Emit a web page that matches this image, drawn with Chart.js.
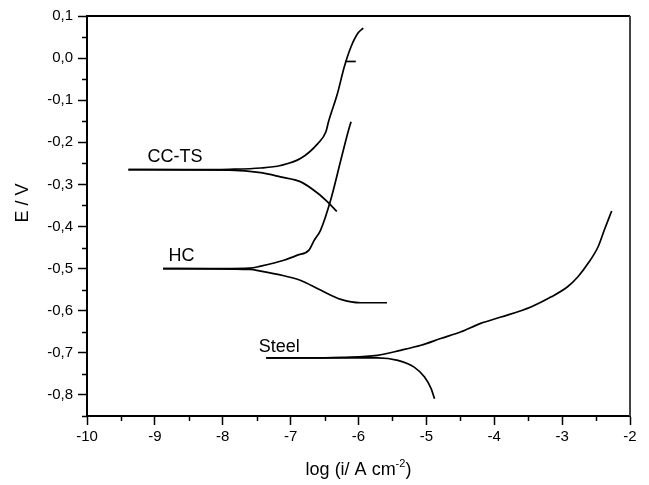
<!DOCTYPE html>
<html>
<head>
<meta charset="utf-8">
<script src="https://cdn.jsdelivr.net/npm/chart.js@4/dist/chart.umd.min.js"></script>
<style>
  html, body { margin: 0; padding: 0; background: #fff; }
  #wrap { width: 649px; height: 485px; position: relative; }
</style>
</head>
<body>
<div id="wrap"><canvas id="c" width="649" height="485"></canvas></div>
<script>
// Tafel curves: [log(i / A cm-2), E / V]
var curveNames = ['CC-TS', 'HC', 'Steel'];

var cctsAnodic = [[-9.39, -0.265], [-8.5, -0.265], [-7.9, -0.264], [-7.44, -0.261], [-7.15, -0.255],
  [-6.85, -0.238], [-6.6, -0.203], [-6.48, -0.175], [-6.44, -0.15], [-6.31, -0.084],
  [-6.21, -0.021], [-6.11, 0.027], [-6.01, 0.059], [-5.93, 0.071]];
var cctsCathodic = [[-9.39, -0.265], [-7.9, -0.266], [-7.44, -0.272], [-7.15, -0.282], [-6.85, -0.294],
  [-6.6, -0.321], [-6.46, -0.341], [-6.32, -0.364]];
var cctsGlitch = [[-6.2, -0.008], [-6.04, -0.008]];

var hcAnodic = [[-8.88, -0.5], [-8.0, -0.5], [-7.6, -0.499], [-7.44, -0.494], [-7.1, -0.48],
  [-6.9, -0.468], [-6.73, -0.456], [-6.65, -0.432], [-6.56, -0.409], [-6.41, -0.337],
  [-6.26, -0.242], [-6.16, -0.179], [-6.11, -0.151]];
var hcCathodic = [[-8.88, -0.5], [-7.6, -0.502], [-7.44, -0.506], [-7.1, -0.517], [-6.85, -0.528],
  [-6.56, -0.551], [-6.26, -0.573], [-5.97, -0.581], [-5.58, -0.581]];

var steelAnodic = [[-7.36, -0.712], [-6.5, -0.712], [-6.24, -0.711], [-5.72, -0.706], [-5.38, -0.694],
  [-5.08, -0.682], [-4.79, -0.666], [-4.49, -0.65], [-4.2, -0.63], [-3.9, -0.615],
  [-3.46, -0.591], [-3.16, -0.567], [-2.92, -0.543], [-2.77, -0.52], [-2.62, -0.488],
  [-2.47, -0.448], [-2.38, -0.409], [-2.27, -0.363]];
var steelCathodic = [[-7.36, -0.712], [-5.72, -0.712], [-5.42, -0.718], [-5.18, -0.734], [-5.03, -0.757],
  [-4.93, -0.785], [-4.88, -0.809]];

// axis ranges
var xRange = [-10, -2];
var yRange = [-0.85, 0.1];

var FONT = '"Liberation Sans", Arial, Helvetica, sans-serif';

function pts(a) { return a.map(function (p) { return { x: p[0], y: p[1] }; }); }
function line(name, a, smooth) {
  return { label: name, data: pts(a), showLine: true, borderColor: '#000', borderWidth: 1.7,
    pointRadius: 0, fill: false, cubicInterpolationMode: smooth ? 'monotone' : 'default', tension: 0 };
}

// label anchors in data units (left/baseline)
var tags = [
  { t: curveNames[0], x: -9.11, y: -0.246 },
  { t: curveNames[1], x: -8.8, y: -0.482 },
  { t: curveNames[2], x: -7.47, y: -0.699 }
];

function isMajorX(v) { return Math.abs(v - Math.round(v)) < 1e-6; }
function isMajorY(v) { return Math.abs(v * 10 - Math.round(v * 10)) < 1e-6; }

var deco = {
  id: 'deco',
  afterDraw: function (ch) {
    var ctx = ch.ctx, a = ch.chartArea, xs = ch.scales.x, ys = ch.scales.y;
    ctx.save();
    // frame top / right
    ctx.lineWidth = 2;
    ctx.strokeStyle = '#000';
    ctx.beginPath(); ctx.moveTo(a.left, a.top); ctx.lineTo(a.right, a.top); ctx.stroke();
    ctx.strokeStyle = '#444';
    ctx.beginPath(); ctx.moveTo(a.right, a.top); ctx.lineTo(a.right, a.bottom); ctx.stroke();
    // minor ticks
    ctx.strokeStyle = '#000'; ctx.lineWidth = 1.5;
    xs.ticks.forEach(function (t) {
      if (isMajorX(t.value)) return;
      var px = Math.round(xs.getPixelForValue(t.value)) + 0.5;
      ctx.beginPath(); ctx.moveTo(px, a.bottom); ctx.lineTo(px, a.bottom + 5); ctx.stroke();
    });
    ys.ticks.forEach(function (t) {
      if (isMajorY(t.value)) return;
      var py = Math.round(ys.getPixelForValue(t.value)) + 0.5;
      ctx.beginPath(); ctx.moveTo(a.left - 5, py); ctx.lineTo(a.left, py); ctx.stroke();
    });
    // curve tags
    ctx.fillStyle = '#000';
    ctx.font = '18px ' + FONT;
    ctx.textBaseline = 'alphabetic'; ctx.textAlign = 'left';
    tags.forEach(function (g) { ctx.fillText(g.t, xs.getPixelForValue(g.x), ys.getPixelForValue(g.y)); });
    // x title with superscript
    var cx = (a.left + a.right) / 2, by = 475;
    var s1 = 'log (i/ A cm', s2 = '-2', s3 = ')';
    ctx.font = '18px ' + FONT; var w1 = ctx.measureText(s1).width, w3 = ctx.measureText(s3).width;
    ctx.font = '11px ' + FONT; var w2 = ctx.measureText(s2).width;
    var x0 = cx - (w1 + w2 + w3) / 2;
    ctx.font = '18px ' + FONT; ctx.fillText(s1, x0, by);
    ctx.font = '11px ' + FONT; ctx.fillText(s2, x0 + w1, by - 8);
    ctx.font = '18px ' + FONT; ctx.fillText(s3, x0 + w1 + w2, by);
    // y title
    ctx.translate(28, 203); ctx.rotate(-Math.PI / 2);
    ctx.textAlign = 'center'; ctx.font = '18px ' + FONT;
    ctx.fillText('E / V', 0, 0);
    ctx.restore();
  }
};

new Chart(document.getElementById('c'), {
  type: 'scatter',
  data: {
    datasets: [
      line(curveNames[0] + ' anodic', cctsAnodic, true),
      line(curveNames[0] + ' cathodic', cctsCathodic, true),
      line(curveNames[0] + ' spike', cctsGlitch, false),
      line(curveNames[1] + ' anodic', hcAnodic, true),
      line(curveNames[1] + ' cathodic', hcCathodic, true),
      line(curveNames[2] + ' anodic', steelAnodic, true),
      line(curveNames[2] + ' cathodic', steelCathodic, true)
    ]
  },
  options: {
    responsive: false, animation: false,
    layout: { padding: { top: 16, right: 19, left: 0, bottom: 0 } },
    plugins: { legend: { display: false }, tooltip: { enabled: false } },
    scales: {
      x: {
        type: 'linear', min: xRange[0], max: xRange[1],
        afterFit: function (s) { s.height = 69; },
        border: { display: true, color: '#000', width: 2 },
        grid: { drawOnChartArea: false, drawTicks: true, tickLength: 9, tickWidth: 1.5,
          tickColor: function (c) { return c.tick && isMajorX(c.tick.value) ? '#000' : 'rgba(0,0,0,0)'; } },
        ticks: { stepSize: 0.5, autoSkip: false, maxRotation: 0, padding: 3, color: '#000',
          font: { family: FONT, size: 15 },
          callback: function (v) { return isMajorX(v) ? String(Math.round(v)) : ''; } }
      },
      y: {
        type: 'linear', min: yRange[0], max: yRange[1],
        afterFit: function (s) { s.width = 87; },
        border: { display: true, color: '#000', width: 2 },
        grid: { drawOnChartArea: false, drawTicks: true, tickLength: 9, tickWidth: 1.5,
          tickColor: function (c) { return c.tick && isMajorY(c.tick.value) ? '#000' : 'rgba(0,0,0,0)'; } },
        ticks: { stepSize: 0.05, autoSkip: false, padding: 5, color: '#000',
          font: { family: FONT, size: 15 },
          callback: function (v) {
            if (!isMajorY(v)) return '';
            var r = Math.round(v * 10) / 10;
            if (r === 0) return '0,0';
            return r.toFixed(1).replace('.', ',');
          } }
      }
    }
  },
  plugins: [deco]
});
</script>
</body>
</html>
